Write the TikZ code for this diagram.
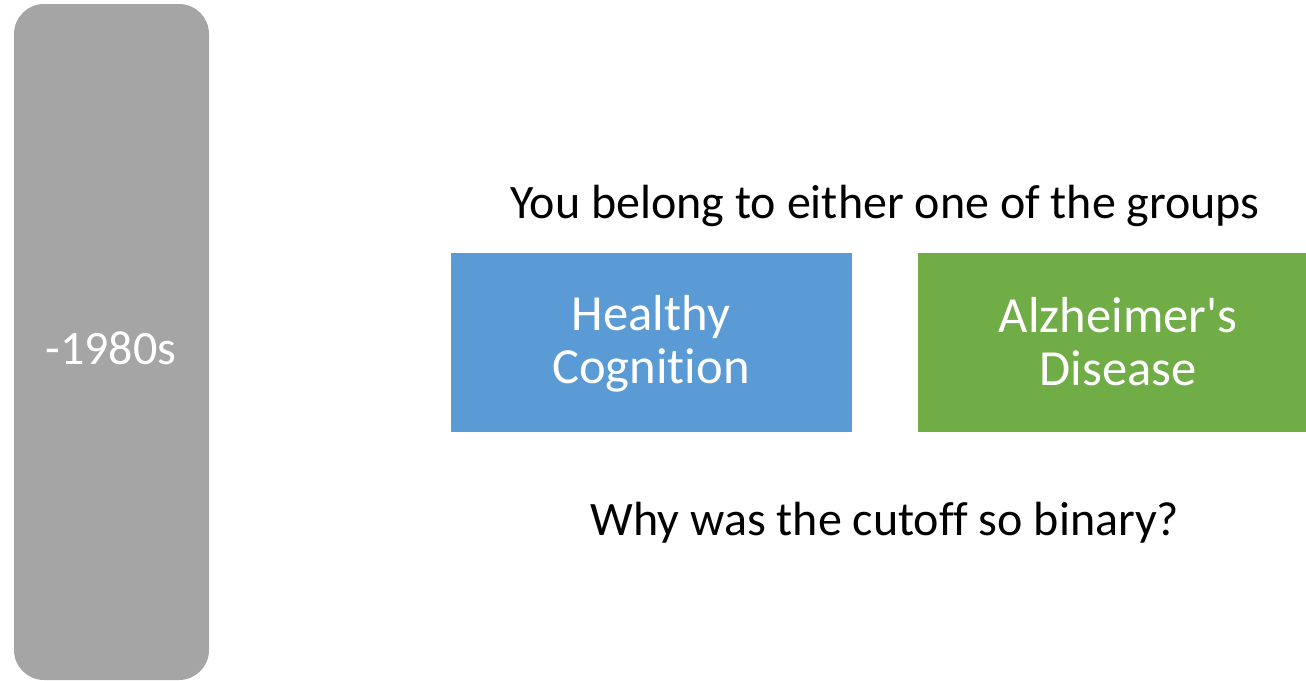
\documentclass[tikz,border=0pt]{standalone}
\usepackage{fontspec}
\setmainfont{Carlito}[Ligatures={TeX,NoCommon}]
\usepackage{xcolor}
\usepackage{tikz}
\definecolor{eragray}{HTML}{A5A5A5}
\definecolor{healthyblue}{HTML}{5B9BD5}
\definecolor{adgreen}{HTML}{70AD47}
\tikzset{
  erabar/.style={fill=eragray,rounded corners=15pt,minimum width=97.5pt,minimum height=338pt,inner sep=0pt},
  groupbox/.style={minimum height=89.5pt,inner sep=0pt},
  boxtext/.style={text=white,align=center,inner sep=0pt,font=\fontsize{25.3}{26.5}\selectfont},
  caption/.style={text=black,inner sep=0pt,font=\fontsize{24}{28}\selectfont},
}
\begin{document}
\begin{tikzpicture}[x=0.5pt,y=-0.5pt]
  \useasboundingbox (0,0) rectangle (1306,680);
  % period bar on the left
  \node[erabar] (era) at (111.5,342) {};
  \node[boxtext,font=\fontsize{24}{28}\selectfont] (eralabel) at (111,348) {-1980s};
  % the two groups
  \node[caption] (question) at (885,206) {You belong to either one of the groups};
  \node[groupbox,fill=healthyblue,minimum width=200.5pt] (healthy) at (651,342.5) {};
  \node[boxtext] (healthytxt) at (651,344) {Healthy\\Cognition};
  \node[groupbox,fill=adgreen,minimum width=194pt] (ad) at (1112,342.5) {};
  \node[boxtext] (adtxt) at (1118,342) {Alzheimer\textquotesingle s\\Disease};
  \node[caption] (why) at (885,523) {Why was the cutoff so binary?};
\end{tikzpicture}
\end{document}
